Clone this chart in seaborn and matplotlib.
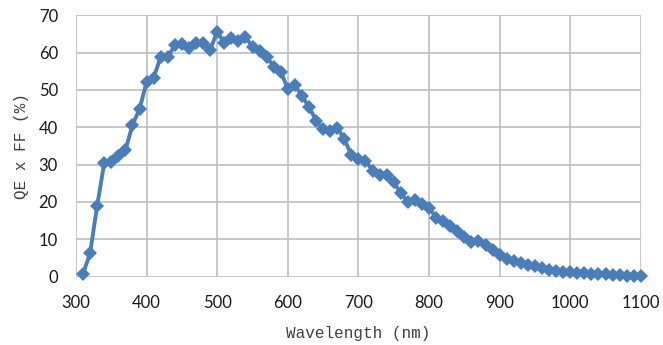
import matplotlib
matplotlib.use('Agg')
import matplotlib.pyplot as plt
import numpy as np
import pandas as pd
import seaborn as sns

#================================================================================================
# Data
#================================================================================================

wavelength = list(range(310, 1101, 10))
qe_ff = [
    0.8, 6.3, 19.0, 30.4, 30.8, 32.2, 33.8, 40.6, 44.9, 52.1,
    53.2, 58.9, 58.7, 62.0, 62.3, 61.3, 62.5, 62.5, 60.8, 65.5,
    62.6, 63.8, 63.0, 64.2, 61.5, 60.5, 58.9, 56.2, 54.9, 50.2,
    51.3, 48.4, 45.4, 41.8, 39.5, 39.1, 39.9, 36.8, 32.6, 31.4,
    31.1, 28.4, 27.1, 27.2, 25.4, 22.3, 20.1, 20.5, 19.5, 18.5,
    15.8, 15.0, 13.6, 12.3, 10.7, 9.3, 9.6, 8.5, 7.1, 5.9,
    4.8, 4.1, 3.6, 3.2, 2.9, 2.3, 1.9, 1.6, 1.3, 1.2,
    1.0, 0.9, 0.8, 0.7, 0.6, 0.5, 0.4, 0.3, 0.3, 0.2,
]

x_ticks = [300, 400, 500, 600, 700, 800, 900, 1000, 1100]
y_ticks = [0, 10, 20, 30, 40, 50, 60, 70]

df = pd.DataFrame({'wavelength': wavelength, 'qe': qe_ff})

#================================================================================================
# Plot
#================================================================================================

sns.set_style('white')
plt.rcParams['font.family'] = ['Lato', 'DejaVu Sans']

fig = plt.figure(figsize=(6.63, 3.45), dpi=100)
ax = fig.add_axes([0.1146, 0.198, 0.852, 0.758])

# Gridlines like the Excel original
for xv in x_ticks:
    ax.axvline(xv, color='#BFBFBF', linewidth=1.2, zorder=0)
for yv in y_ticks:
    ax.axhline(yv, color='#BFBFBF', linewidth=1.2, zorder=0)

sns.lineplot(data=df, x='wavelength', y='qe', ax=ax, color='#4A7EBB',
             linewidth=2.8, marker='D', markersize=7, markeredgewidth=0,
             zorder=3, clip_on=False)

ax.set_xlim(300, 1100)
ax.set_ylim(0, 70)
ax.set_xticks(x_ticks)
ax.set_yticks(y_ticks)
ax.tick_params(axis='both', length=0, labelsize=12, colors='#1a1a1a')
ax.tick_params(axis='x', pad=13)
ax.tick_params(axis='y', pad=13)

for s in ax.spines.values():
    s.set_visible(False)

mono = ['Liberation Mono', 'DejaVu Sans Mono']
ax.set_xlabel('Wavelength (nm)', family=mono, fontsize=11.5, color='#404040', labelpad=11)
ax.set_ylabel('QE x FF (%)', family=mono, fontsize=11.5, color='#404040', labelpad=7)

plt.savefig('out.png', dpi=100)
plt.close()
